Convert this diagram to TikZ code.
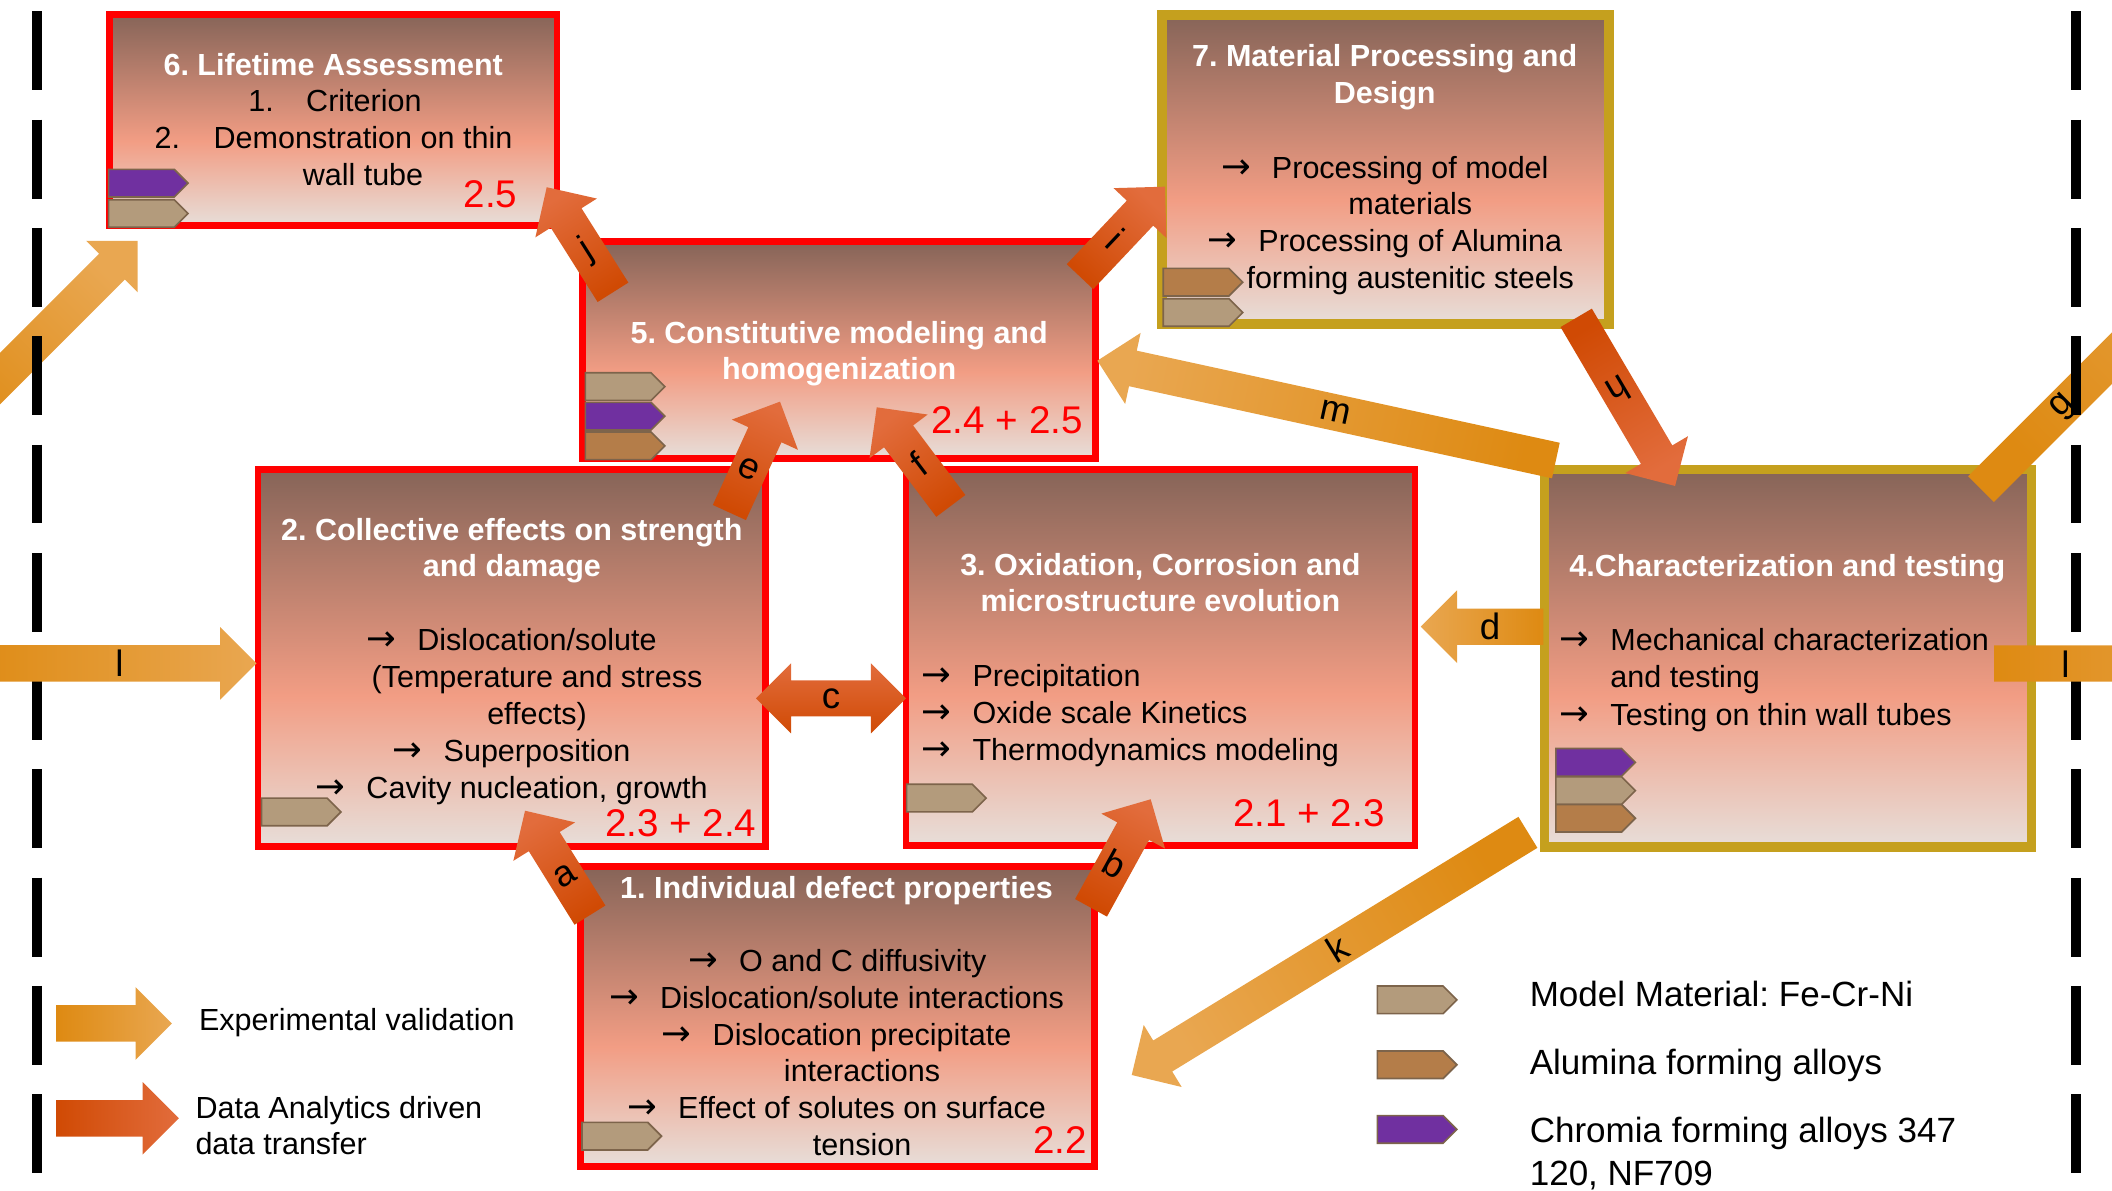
\documentclass[tikz,border=0pt]{standalone}
\usepackage{fontspec}
\setmainfont{Liberation Sans}
\newfontfamily\arrowfont{DejaVu Sans}
\usetikzlibrary{calc, positioning, shapes.symbols}
\frenchspacing

\definecolor{boxtop}{RGB}{134,100,88}
\definecolor{boxmid}{RGB}{242,157,132}
\definecolor{boxbot}{RGB}{231,222,217}
\definecolor{boxred}{RGB}{255,0,0}
\definecolor{boxgold}{RGB}{197,160,30}
\definecolor{tanmat}{RGB}{179,155,124}
\definecolor{brownmat}{RGB}{180,125,73}
\definecolor{purplemat}{RGB}{112,48,160}
\definecolor{badgeline}{RGB}{125,100,75}
\definecolor{expdark}{RGB}{222,138,18}
\definecolor{explight}{RGB}{233,167,81}
\definecolor{datadark}{RGB}{208,74,4}
\definecolor{datalight}{RGB}{226,108,60}

\pgfdeclareverticalshading{boxfade}{100bp}{color(0bp)=(boxbot); color(25bp)=(boxbot); color(45bp)=(boxmid); color(75bp)=(boxtop); color(100bp)=(boxtop)}

% block arrow from tail #2 to head #3
\newcommand\blockarrow[3]{%
  \path ($(#3)!0.54cm!(#2)$) coordinate (#3-base);
  \path[#1] ($(#2)!0.27cm!90:(#3)$) -- ($(#3-base)!0.27cm!90:(#3)$)
    -- ($(#3-base)!0.54cm!90:(#3)$) -- (#3)
    -- ($(#3-base)!0.54cm!-90:(#3)$) -- ($(#3-base)!0.27cm!-90:(#3)$)
    -- ($(#2)!0.27cm!-90:(#3)$) -- cycle;
}

\tikzset{
  redbox/.style={draw=boxred, line width=0.1cm, shade, shading=boxfade, inner sep=0pt},
  goldbox/.style={draw=boxgold, line width=0.14cm, shade, shading=boxfade, inner sep=0pt},
  boxtitle/.style={text=white, font=\fontsize{12.9}{15.6}\selectfont\bfseries, inner sep=0pt, anchor=base},
  bodyline/.style={inner sep=0pt, anchor=base},
  leftline/.style={inner sep=0pt, anchor=base west},
  pointer/.style={inner sep=0pt, font=\fontsize{15}{15.6}\selectfont\arrowfont},
  refnum/.style={text=boxred, font=\fontsize{16.3}{19}\selectfont, inner sep=0pt, anchor=base east},
  badge/.style={signal, signal to=east, signal from=nowhere, signal pointer angle=90,
    minimum width=1.18cm, minimum height=0.41cm, inner sep=0pt,
    draw=badgeline, line width=0.7pt, anchor=west},
  exparrow/.style={top color=explight, bottom color=expdark},
  dataarrow/.style={top color=datalight, bottom color=datadark},
  arrowlabel/.style={font=\fontsize{15.5}{18}\selectfont, inner sep=0pt},
  dashline/.style={line width=0.148cm, dash pattern=on 1.172cm off 0.436cm},
  legendtext/.style={anchor=base west, inner sep=0pt, font=\fontsize{14.8}{17.8}\selectfont}
}

\begin{document}
\begin{tikzpicture}[x=0.02cm, y=-0.02cm, font=\fontsize{12.9}{15.6}\selectfont]
  \useasboundingbox (0,0) rectangle (1568,884);
  \clip (0,0) rectangle (1568,884);

  % Boxes
  \node[redbox, minimum width=6.65cm, minimum height=3.14cm] (life) at (247.25,89) {};
  \node[redbox, minimum width=7.62cm, minimum height=3.22cm] (const) at (623,260) {};
  \node[goldbox, minimum width=6.64cm, minimum height=4.59cm] (proc) at (1028.5,125.75) {};
  \node[redbox, minimum width=7.54cm, minimum height=5.6cm] (coll) at (380,488.5) {};
  \node[redbox, minimum width=7.56cm, minimum height=5.58cm] (oxid) at (861.5,488) {};
  \node[goldbox, minimum width=7.23cm, minimum height=5.61cm] (char) at (1327.3,488.75) {};
  \node[redbox, minimum width=7.63cm, minimum height=4.45cm] (defect) at (621.75,754.8) {};

  % 6. Lifetime Assessment
  \node[boxtitle] (life-t) at (247.4,55.7) {6. Lifetime Assessment};
  \node[leftline] (life-n1) at (184,83) {1.};
  \node[leftline] (life-l1) at (227,83) {Criterion};
  \node[leftline] (life-n2) at (114.4,110) {2.};
  \node[bodyline] (life-l2) at (269.5,110) {Demonstration on thin};
  \node[bodyline] (life-l3) at (269.5,137.4) {wall tube};
  \node[refnum] (life-r) at (384.5,154) {2.5};

  % 5. Constitutive modeling
  \node[boxtitle] (const-t1) at (623,255) {5. Constitutive modeling and};
  \node[boxtitle] (const-t2) at (623,281.6) {homogenization};
  \node[refnum] (const-r) at (804.2,321.7) {2.4 + 2.5};

  % 7. Material Processing
  \node[boxtitle] (proc-t1) at (1028,49.5) {7. Material Processing and};
  \node[boxtitle] (proc-t2) at (1028,76.7) {Design};
  \node[bodyline] (proc-l1) at (1047,132.4) {Processing of model};
  \node[pointer, base left=0.3cm of proc-l1] (proc-p1) {→};
  \node[bodyline] (proc-l2) at (1047,158.9) {materials};
  \node[bodyline] (proc-l3) at (1047,186.9) {Processing of Alumina};
  \node[pointer, base left=0.3cm of proc-l3] (proc-p3) {→};
  \node[bodyline] (proc-l4) at (1047,214.1) {forming austenitic steels};

  % 2. Collective effects
  \node[boxtitle] (coll-t1) at (380,401) {2. Collective effects on strength};
  \node[boxtitle] (coll-t2) at (380,428.2) {and damage};
  \node[bodyline] (coll-l1) at (398.7,482.6) {Dislocation/solute};
  \node[pointer, base left=0.3cm of coll-l1] (coll-p1) {→};
  \node[bodyline] (coll-l2) at (398.7,510.5) {(Temperature and stress};
  \node[bodyline] (coll-l3) at (398.7,537.8) {effects)};
  \node[bodyline] (coll-l4) at (398.7,565.5) {Superposition};
  \node[pointer, base left=0.3cm of coll-l4] (coll-p4) {→};
  \node[bodyline] (coll-l5) at (398.7,592.7) {Cavity nucleation, growth};
  \node[pointer, base left=0.3cm of coll-l5] (coll-p5) {→};
  \node[refnum] (coll-r) at (561.8,621.2) {2.3 + 2.4};

  % 3. Oxidation
  \node[boxtitle] (oxid-t1) at (861.5,426.9) {3. Oxidation, Corrosion and};
  \node[boxtitle] (oxid-t2) at (861.5,454.3) {microstructure evolution};
  \node[leftline] (oxid-l1) at (721.7,509.8) {Precipitation};
  \node[pointer, base left=0.3cm of oxid-l1] (oxid-p1) {→};
  \node[leftline] (oxid-l2) at (721.7,537) {Oxide scale Kinetics};
  \node[pointer, base left=0.3cm of oxid-l2] (oxid-p2) {→};
  \node[leftline] (oxid-l3) at (721.7,564.3) {Thermodynamics modeling};
  \node[pointer, base left=0.3cm of oxid-l3] (oxid-p3) {→};
  \node[refnum] (oxid-r) at (1028.3,613.8) {2.1 + 2.3};

  % 4. Characterization
  \node[boxtitle] (char-t) at (1326.9,428.1) {4.Characterization and testing};
  \node[leftline] (char-l1) at (1195.3,483.3) {Mechanical characterization};
  \node[pointer, base left=0.3cm of char-l1] (char-p1) {→};
  \node[leftline] (char-l2) at (1195.3,510.3) {and testing};
  \node[leftline] (char-l3) at (1195.3,538.3) {Testing on thin wall tubes};
  \node[pointer, base left=0.3cm of char-l3] (char-p3) {→};

  % 1. Individual defect properties
  \node[boxtitle] (defect-t) at (621,667) {1. Individual defect properties};
  \node[bodyline] (defect-l1) at (640.5,721.4) {O and C diffusivity};
  \node[pointer, base left=0.3cm of defect-l1] (defect-p1) {→};
  \node[bodyline] (defect-l2) at (640,748.6) {Dislocation/solute interactions};
  \node[pointer, base left=0.3cm of defect-l2] (defect-p2) {→};
  \node[bodyline] (defect-l3) at (640,775.9) {Dislocation precipitate};
  \node[pointer, base left=0.3cm of defect-l3] (defect-p3) {→};
  \node[bodyline] (defect-l4) at (640,803.1) {interactions};
  \node[bodyline] (defect-l5) at (640,830.3) {Effect of solutes on surface};
  \node[pointer, base left=0.3cm of defect-l5] (defect-p5) {→};
  \node[bodyline] (defect-l6) at (640,857.5) {tension};
  \node[refnum] (defect-r) at (807.2,856.3) {2.2};

  % Material badges
  \node[badge, fill=purplemat] (life-b1) at (80,136) {};
  \node[badge, fill=tanmat] (life-b2) at (80,158.5) {};
  \node[badge, fill=tanmat] (const-b1) at (434,287) {};
  \node[badge, fill=purplemat] (const-b2) at (434,309) {};
  \node[badge, fill=brownmat] (const-b3) at (434,331) {};
  \node[badge, fill=brownmat] (proc-b1) at (863,209.5) {};
  \node[badge, fill=tanmat] (proc-b2) at (863,232) {};
  \node[badge, fill=tanmat] (coll-b1) at (193.5,602.8) {};
  \node[badge, fill=tanmat] (oxid-b1) at (672.5,592.5) {};
  \node[badge, fill=purplemat] (char-b1) at (1154.5,566) {};
  \node[badge, fill=tanmat] (char-b2) at (1154.5,587) {};
  \node[badge, fill=brownmat] (char-b3) at (1154.5,607.5) {};
  \node[badge, fill=tanmat] (defect-b1) at (431.5,843.5) {};

  % Arrows leaving and entering the frame
  \coordinate (in-t) at (-47.8,328.9);
  \coordinate (in-h) at (102.2,178.9);
  \blockarrow{exparrow, shading angle=-45}{in-t}{in-h}
  \coordinate (g-t) at (1470.7,363.2);
  \coordinate (g-h) at (1720.7,113.2);
  \blockarrow{exparrow, shading angle=-45}{g-t}{g-h}

  % Frame lines
  \draw[dashline] (27.2,8.5) -- (27.2,900);
  \draw[dashline] (1541.5,8.5) -- (1541.5,900);

  % Experimental validation arrows
  \coordinate (l-t) at (-30,492.5);
  \coordinate (l-h) at (190.5,492.5);
  \blockarrow{exparrow, shading angle=-90}{l-t}{l-h}
  \coordinate (l2-t) at (1480.4,492.6);
  \coordinate (l2-h) at (1700,492.6);
  \blockarrow{exparrow, shading angle=-90}{l2-t}{l2-h}
  \coordinate (d-t) at (1145.8,465.3);
  \coordinate (d-h) at (1054.8,465.3);
  \blockarrow{exparrow, shading angle=90}{d-t}{d-h}
  \coordinate (k-t) at (1134.35,617.95);
  \coordinate (k-h) at (840.2,798.1);
  \blockarrow{exparrow, shading angle=121.5}{k-t}{k-h}
  \coordinate (m-t) at (1155.1,341.9);
  \coordinate (m-h) at (814.7,267.8);
  \blockarrow{exparrow, shading angle=77.7}{m-t}{m-h}

  % Data analytics arrows
  \coordinate (a-t) at (438,679.4);
  \coordinate (a-h) at (389.8,601.9);
  \blockarrow{dataarrow, shading angle=31.9}{a-t}{a-h}
  \coordinate (b-t) at (810,674);
  \coordinate (b-h) at (854.3,593.4);
  \blockarrow{dataarrow, shading angle=-28.8}{b-t}{b-h}
  \coordinate (e-t) at (541.5,380.5);
  \coordinate (e-h) at (579.1,298.2);
  \blockarrow{dataarrow, shading angle=-24.6}{e-t}{e-h}
  \coordinate (f-t) at (705.9,375.6);
  \coordinate (f-h) at (650.9,302.4);
  \blockarrow{dataarrow, shading angle=36.9}{f-t}{f-h}
  \coordinate (h-t) at (1170.2,236);
  \coordinate (h-h) at (1243.6,360.8);
  \blockarrow{dataarrow, shading angle=-149.5}{h-t}{h-h}
  \coordinate (i-t) at (801.8,205.4);
  \coordinate (i-h) at (864.9,138.6);
  \blockarrow{dataarrow, shading angle=-43.4}{i-t}{i-h}
  \coordinate (j-t) at (455.1,217);
  \coordinate (j-h) at (405.9,139);
  \blockarrow{dataarrow, shading angle=32.2}{j-t}{j-h}

  % c: both ways between 2 and 3
  \coordinate (c-l) at (561.3,518.5);
  \coordinate (c-r) at (672.6,518.5);
  \path[dataarrow] (c-l) -- ($(c-l)+(26,-26)$) -- ($(c-l)+(26,-13.4)$)
    -- ($(c-r)+(-26,-13.4)$) -- ($(c-r)+(-26,-26)$) -- (c-r)
    -- ($(c-r)+(-26,26)$) -- ($(c-r)+(-26,13.4)$)
    -- ($(c-l)+(26,13.4)$) -- ($(c-l)+(26,26)$) -- cycle;

  % Arrow labels
  \node[arrowlabel, rotate=31.9] (a-lab) at ($(a-t)!0.38!(a-h)$) {a};
  \node[arrowlabel, rotate=-28.8] (b-lab) at ($(b-t)!0.4!(b-h)$) {b};
  \node[arrowlabel] (c-lab) at ($(c-l)!0.5!(c-r)$) {c};
  \node[arrowlabel] (d-lab) at ($(d-t)!0.435!(d-h)$) {d};
  \node[arrowlabel, rotate=-24.6] (e-lab) at ($(e-t)!0.39!(e-h)$) {e};
  \node[arrowlabel, rotate=36.9] (f-lab) at ($(f-t)!0.43!(f-h)$) {f};
  \node[arrowlabel, rotate=45] (g-lab) at (1532,302) {g};
  \node[arrowlabel, rotate=-149.5] (h-lab) at ($(h-t)!0.43!(h-h)$) {h};
  \node[arrowlabel, rotate=-43.4] (i-lab) at ($(i-t)!0.42!(i-h)$) {i};
  \node[arrowlabel, rotate=32.2] (j-lab) at ($(j-t)!0.4!(j-h)$) {j};
  \node[arrowlabel, rotate=31.5] (k-lab) at ($(k-t)!0.48!(k-h)$) {k};
  \node[arrowlabel] (l-lab) at (88.6,492.5) {l};
  \node[arrowlabel] (l2-lab) at (1533.5,493) {l};
  \node[arrowlabel, rotate=-12.3] (m-lab) at ($(m-t)!0.48!(m-h)$) {m};

  % Legend: arrows
  \coordinate (exp-t) at (41.6,759.8);
  \coordinate (exp-h) at (127.6,759.8);
  \blockarrow{exparrow, shading angle=-90}{exp-t}{exp-h}
  \node[leftline] (exp-txt) at (147.4,764.7) {Experimental validation};
  \coordinate (dat-t) at (41.6,830.3);
  \coordinate (dat-h) at (132.8,830.3);
  \blockarrow{dataarrow, shading angle=-90}{dat-t}{dat-h}
  \node[leftline] (dat-txt1) at (144.8,830.3) {Data Analytics driven};
  \node[leftline] (dat-txt2) at (144.8,856.8) {data transfer};

  % Legend: materials
  \node[badge, fill=tanmat] (key-tan) at (1022,742.3) {};
  \node[legendtext] (key-tan-t) at (1135.4,747.4) {Model Material: Fe-Cr-Ni};
  \node[badge, fill=brownmat] (key-brown) at (1022,790.5) {};
  \node[legendtext] (key-brown-t) at (1135.4,798.1) {Alumina forming alloys};
  \node[badge, fill=purplemat] (key-purple) at (1022,838.5) {};
  \node[legendtext] (key-purple-t1) at (1135.4,848.4) {Chromia forming alloys 347};
  \node[legendtext] (key-purple-t2) at (1135.4,879.8) {120, NF709};
\end{tikzpicture}
\end{document}
